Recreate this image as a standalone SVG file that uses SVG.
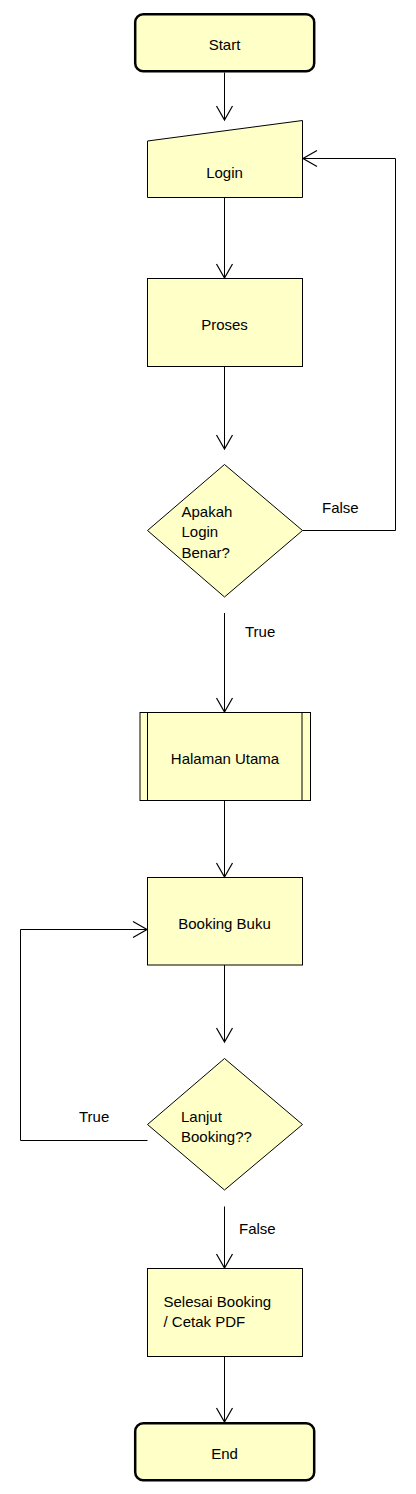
<svg xmlns="http://www.w3.org/2000/svg" width="416" height="1494" viewBox="0 0 416 1494">
<defs>
<style>
.n{fill:#ffffc8;stroke:#000;stroke-width:1}
.t{fill:#ffffc8;stroke:#000;stroke-width:2.5}
.c{fill:none;stroke:#000;stroke-width:1}
text{font-family:"Liberation Sans",Arial,sans-serif;font-size:15px;fill:#000}
.m{text-anchor:middle}
</style>
<marker id="a" markerUnits="userSpaceOnUse" markerWidth="20" markerHeight="20" viewBox="-16 -10 20 20" refX="0" refY="0" orient="auto">
<path d="M-14,-8 L0,0 L-14,8" fill="none" stroke="#000" stroke-width="1.2"/>
</marker>
</defs>
<rect width="416" height="1494" fill="#fff"/>
<g id="start"><rect class="t" x="135.2" y="14.2" width="179" height="57" rx="8"/><text class="m" x="224.5" y="50">Start</text></g>
<g id="login"><path class="n" d="M147.5,141 L302.5,120.5 L302.5,197.5 L147.5,197.5 Z"/><text class="m" x="224.5" y="177.5">Login</text></g>
<g id="proses"><rect class="n" x="147.5" y="278.5" width="155" height="88"/><text class="m" x="224.5" y="329.5">Proses</text></g>
<g id="cek-login"><path class="n" d="M224.5,464.5 L302.5,530.5 L224.5,597 L147.5,530.5 Z"/><text x="181.5" y="517">Apakah</text><text x="181.5" y="537">Login</text><text x="181.5" y="558">Benar?</text></g>
<g id="halaman-utama"><rect class="n" x="140" y="712.5" width="170.5" height="88"/><line class="c" x1="147.5" y1="712.5" x2="147.5" y2="800.5"/><line class="c" x1="302" y1="712.5" x2="302" y2="800.5"/><text class="m" x="225" y="763.5">Halaman Utama</text></g>
<g id="booking-buku"><rect class="n" x="147.5" y="877.5" width="155" height="87.5"/><text class="m" x="224.5" y="928.5">Booking Buku</text></g>
<g id="lanjut"><path class="n" d="M224.5,1058.5 L302.5,1124.5 L224.5,1190 L147.5,1124.5 Z"/><text x="181" y="1122">Lanjut</text><text x="181" y="1142">Booking??</text></g>
<g id="selesai"><rect class="n" x="147.5" y="1268.5" width="155" height="88"/><text x="163.5" y="1307">Selesai Booking</text><text x="163.5" y="1327">/ Cetak PDF</text></g>
<g id="end"><rect class="t" x="135.2" y="1423.2" width="179" height="57" rx="8"/><text class="m" x="224.5" y="1459">End</text></g>
<g id="connectors">
<line class="c" x1="224.5" y1="72.5" x2="224.5" y2="120" marker-end="url(#a)"/>
<line class="c" x1="224.5" y1="197.5" x2="224.5" y2="278" marker-end="url(#a)"/>
<line class="c" x1="224.5" y1="366.5" x2="224.5" y2="449" marker-end="url(#a)"/>
<polyline class="c" points="302.5,530.5 395.5,530.5 395.5,158.5 303,158.5" marker-end="url(#a)"/>
<text x="322" y="512.5">False</text>
<line class="c" x1="224.5" y1="613" x2="224.5" y2="712" marker-end="url(#a)"/>
<text x="245" y="636.5">True</text>
<line class="c" x1="224.5" y1="800.5" x2="224.5" y2="877" marker-end="url(#a)"/>
<line class="c" x1="224.5" y1="965" x2="224.5" y2="1042" marker-end="url(#a)"/>
<polyline class="c" points="147.5,1140.5 20.5,1140.5 20.5,929.5 147,929.5" marker-end="url(#a)"/>
<text x="79" y="1121.5">True</text>
<line class="c" x1="224.5" y1="1206.5" x2="224.5" y2="1268" marker-end="url(#a)"/>
<text x="239" y="1234">False</text>
<line class="c" x1="224.5" y1="1356.5" x2="224.5" y2="1422" marker-end="url(#a)"/>
</g>
</svg>
